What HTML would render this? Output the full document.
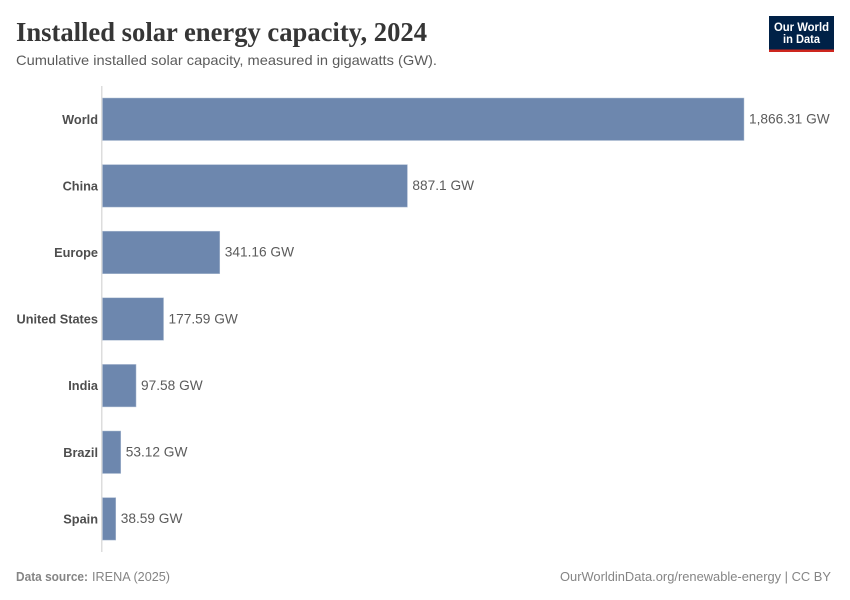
<!DOCTYPE html>
<html lang="en">
<head>
<meta charset="utf-8">
<title>Installed solar energy capacity, 2024</title>
<style>
html,body{margin:0;padding:0;background:#fff;}
svg{display:block;font-family:"Liberation Sans",sans-serif;}
</style>
</head>
<body>
<svg id="chart" width="850" height="600" viewBox="0 0 850 600" xmlns="http://www.w3.org/2000/svg">
  <rect x="0" y="0" width="850" height="600" fill="#ffffff"/>
  <text x="16" y="41" font-family="'Liberation Serif',serif" font-weight="700" font-size="27" fill="#363636" textLength="411" lengthAdjust="spacingAndGlyphs">Installed solar energy capacity, 2024</text>
  <text x="16" y="65" font-size="14" fill="#5b5b5b" textLength="421" lengthAdjust="spacingAndGlyphs">Cumulative installed solar capacity, measured in gigawatts (GW).</text>
  <g>
    <rect x="769" y="16" width="65" height="36" fill="#002147"/>
    <rect x="769" y="49.5" width="65" height="2.5" fill="#ce261e"/>
    <text x="801.5" y="31" text-anchor="middle" font-size="12" font-weight="700" fill="#ffffff" textLength="55" lengthAdjust="spacingAndGlyphs">Our World</text>
    <text x="801.5" y="43" text-anchor="middle" font-size="12" font-weight="700" fill="#ffffff" textLength="37" lengthAdjust="spacingAndGlyphs">in Data</text>
  </g>
  <line x1="101.75" y1="86" x2="101.75" y2="552" stroke="#dddddd" stroke-width="1.5"/>
  <g id="bars"></g>
  <text x="16" y="581" font-size="13" font-weight="700" fill="#858585" textLength="72" lengthAdjust="spacingAndGlyphs">Data source:</text>
  <text x="92" y="581" font-size="13" fill="#858585" textLength="78" lengthAdjust="spacingAndGlyphs">IRENA (2025)</text>
  <text x="831" y="581" text-anchor="end" font-size="13" fill="#858585" textLength="271" lengthAdjust="spacingAndGlyphs">OurWorldinData.org/renewable-energy | CC BY</text>
</svg>
<script>
const categories = ["World", "China", "Europe", "United States", "India", "Brazil", "Spain"];
const capacityGW = [1866.31, 887.1, 341.16, 177.59, 97.58, 53.12, 38.59];
const unitLabel = " GW";

const SVG_NS = "http://www.w3.org/2000/svg";
const barsGroup = document.getElementById("bars");
const plotLeft = 102.5;
const plotRight = 744;
const plotTop = 98;
const rowStep = 66.6;
const barHeight = 42.5;
const domainMax = Math.max(1866.31, ...capacityGW);

function xScale(v) {
  return (plotRight - plotLeft) * v / domainMax;
}
function yScale(i) {
  return plotTop + i * rowStep;
}
function formatValue(v) {
  return v.toLocaleString("en-US", { maximumFractionDigits: 2 }) + unitLabel;
}

categories.forEach(function (name, i) {
  const value = capacityGW[i];
  const y = yScale(i);
  const w = xScale(value);
  const slug = name.toLowerCase().replace(/\s+/g, "-");

  const bar = document.createElementNS(SVG_NS, "rect");
  
  
  bar.setAttribute("x", plotLeft);
  bar.setAttribute("y", y);
  bar.setAttribute("width", w);
  bar.setAttribute("height", barHeight);
  bar.setAttribute("fill", "#6d87ae");
  bar.setAttribute("stroke", "#b4c2d6");
  bar.setAttribute("stroke-width", "0.5");
  barsGroup.appendChild(bar);

  const cat = document.createElementNS(SVG_NS, "text");
  
  
  cat.setAttribute("x", 98);
  cat.setAttribute("y", y + barHeight / 2 + 4.5);
  cat.setAttribute("text-anchor", "end");
  cat.setAttribute("font-size", "12.75");
  cat.setAttribute("font-weight", "700");
  cat.setAttribute("fill", "#4e4e4e");
  cat.textContent = name;
  barsGroup.appendChild(cat);

  const val = document.createElementNS(SVG_NS, "text");
  
  
  val.setAttribute("x", plotLeft + w + 5);
  val.setAttribute("y", y + barHeight / 2 + 4.2);
  val.setAttribute("font-size", "13.7");
  val.setAttribute("fill", "#5b5b5b");
  val.textContent = formatValue(value);
  barsGroup.appendChild(val);
});
</script>
</body>
</html>
